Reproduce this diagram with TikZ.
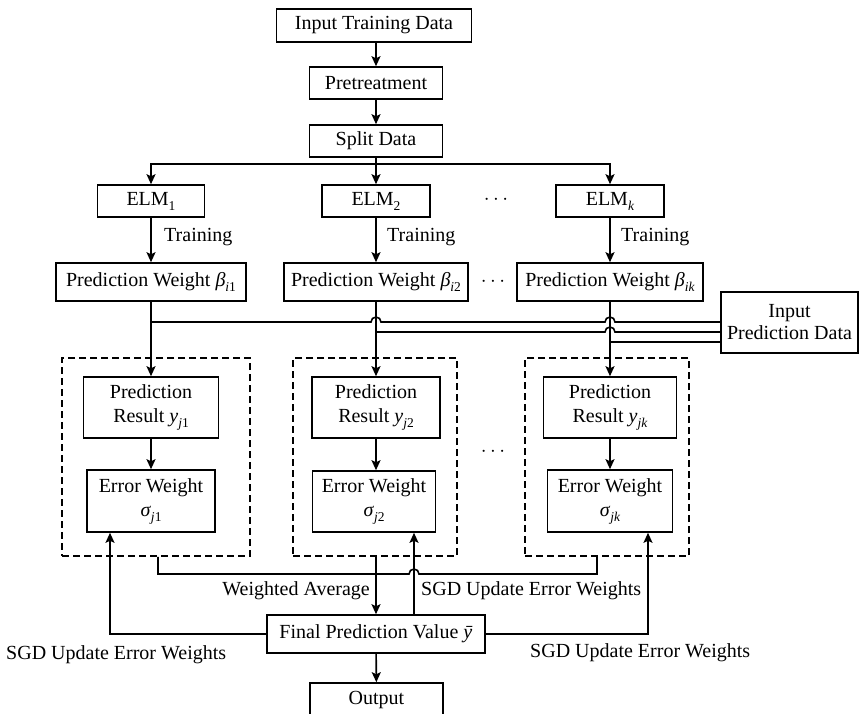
\documentclass[tikz,border=0pt]{standalone}
\usepackage{fontspec}
\setmainfont{Liberation Serif}
\usetikzlibrary{arrows.meta,calc}
\newcommand\lsb[1]{\raisebox{-0.25em}{\fontsize{13.5}{13.5}\selectfont #1}}
\begin{document}
\begin{tikzpicture}[x=1pt,y=-1pt,
  font=\fontsize{20}{24}\selectfont,
  box/.style={draw,line width=1.6pt,inner sep=2pt,align=center},
  dbox/.style={draw,line width=1.5pt,dash pattern=on 7pt off 4pt,minimum height=198pt},
  conn/.style={line width=1.6pt},
  arr/.style={line width=1.6pt,-{Stealth[length=10pt,width=9pt,inset=2pt]}},
  lbl/.style={inner sep=0pt}]
\useasboundingbox (0,0) rectangle (860,713);
% top chain
\node[box,minimum width=195pt,minimum height=33pt] (itd) at (374,25.5) {Input Training Data};
\node[box,minimum width=133pt,minimum height=32pt] (pre) at (376,83) {Pretreatment};
\node[box,minimum width=133pt,minimum height=32pt] (split) at (376,141) {Split Data};
% ELMs
\node[box,minimum width=107pt,minimum height=32pt] (elm1) at (151,201) {ELM\lsb{1}};
\node[box,minimum width=108pt,minimum height=32pt] (elm2) at (376,201) {ELM\lsb{2}};
\node[box,minimum width=108pt,minimum height=32pt] (elmk) at (610,201) {ELM\lsb{\textit{k}}};
\node[lbl] (dA) at (496,200) {$\cdots$};
% training labels
\node[lbl,anchor=west] (t1) at (164,237) {Training};
\node[lbl,anchor=west] (t2) at (387,237) {Training};
\node[lbl,anchor=west] (t3) at (621,237) {Training};
% prediction weights
\node[box,minimum width=190pt,minimum height=38pt] (pw1) at (151,282) {Prediction Weight \textit{β}\lsb{\textit{i}1}};
\node[box,minimum width=184pt,minimum height=38pt] (pw2) at (376,282) {Prediction Weight \textit{β}\lsb{\textit{i}2}};
\node[box,minimum width=186pt,minimum height=38pt] (pwk) at (610,282) {Prediction Weight \textit{β}\lsb{\textit{ik}}};
\node[lbl] (dB) at (493,282) {$\cdots$};
\node[box,minimum width=137pt,minimum height=61pt] (ipd) at (789.5,322.5) {Input\\[-2pt]Prediction Data};
% dashed groups
\node[dbox,minimum width=188pt] (g1) at (156,457) {};
\node[dbox,minimum width=164pt] (g2) at (375,457) {};
\node[dbox,minimum width=164pt] (g3) at (607,457) {};
\node[box,minimum width=135pt,minimum height=61pt] (pr1) at (151,407.5) {Prediction\\Result \textit{y}\lsb{\textit{j}1}};
\node[box,minimum width=128pt,minimum height=61pt] (pr2) at (376,407.5) {Prediction\\Result \textit{y}\lsb{\textit{j}2}};
\node[box,minimum width=133pt,minimum height=61pt] (pr3) at (610,407.5) {Prediction\\Result \textit{y}\lsb{\textit{jk}}};
\node[box,minimum width=128pt,minimum height=62pt] (ew1) at (151,501) {Error Weight\\\textit{σ}\lsb{\textit{j}1}};
\node[box,minimum width=123pt,minimum height=61pt] (ew2) at (374,501.5) {Error Weight\\\textit{σ}\lsb{\textit{j}2}};
\node[box,minimum width=125pt,minimum height=62pt] (ew3) at (610,501) {Error Weight\\\textit{σ}\lsb{\textit{jk}}};
\node[lbl] (dC) at (493,452) {$\cdots$};
% final and output
\node[box,minimum width=218pt,minimum height=38pt] (fin) at (376,634) {Final Prediction Value \textit{\={y}}};
\node[box,minimum width=133pt,minimum height=34pt] (out) at (376.5,700) {Output};
% labels
\node[lbl,anchor=east] (wa) at (370,591) {Weighted Average};
\node[lbl,anchor=west] (sm) at (421,591) {SGD Update Error Weights};
\node[lbl,anchor=west] (sl) at (6,655) {SGD Update Error Weights};
\node[lbl,anchor=west] (sr) at (530,653) {SGD Update Error Weights};
% connectors top
\draw[arr] (itd.south -| pre.north) -- (pre.north);
\draw[arr] (pre) -- (split);
\coordinate (sj) at (split.south |- 0,164);
\draw[conn] (split.south) -- (sj);
\draw[arr] (sj) -| (elm1.north);
\draw[arr] (sj) -- (elm2.north);
\draw[arr] (sj) -| (elmk.north);
\draw[arr] (elm1) -- (pw1);
\draw[arr] (elm2) -- (pw2);
\draw[arr] (elmk) -- (pwk);
% weights to results
\draw[arr] (pw1) -- (pr1);
\draw[arr] (pw2) -- (pr2);
\draw[arr] (pwk) -- (pr3);
% input prediction data lines with jumps
\draw[conn] (pw1.south |- 0,322) -- (371,322) arc (180:360:5) -- (605,322) arc (180:360:5) -- (ipd.west |- 0,322);
\draw[conn] (pw2.south |- 0,332) -- (605,332) arc (180:360:5) -- (ipd.west |- 0,332);
\draw[conn] (pwk.south |- 0,342) -- (ipd.west |- 0,342);
% results to error weights
\draw[arr] (pr1) -- (ew1);
\draw[arr] (pr2.south) -- (pr2.south |- ew2.north);
\draw[arr] (pr3) -- (ew3);
% weighted average
\coordinate (wl) at ($(g1.south)+(2,0)$);
\coordinate (wr) at ($(g3.south)+(-10,0)$);
\draw[conn] (wl) |- (409,574) arc (180:360:5) -| (wr);
\draw[arr] (fin.north |- g2.south) -- (fin.north);
% SGD updates
\coordinate (mu) at ($(fin.north)+(38,0)$);
\coordinate (lu) at ($(ew1.south)+(-41,0)$);
\coordinate (ru) at ($(ew3.south)+(38,0)$);
\draw[arr] (mu) -- (mu |- ew2.south);
\draw[arr] (fin.west) -| (lu);
\draw[arr] (fin.east) -| (ru);
\draw[arr] (fin) -- (out);
\end{tikzpicture}
\end{document}
